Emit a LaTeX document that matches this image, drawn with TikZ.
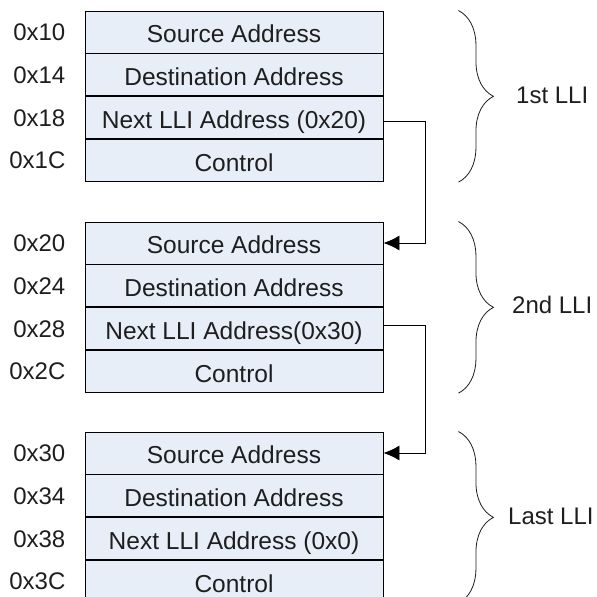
\documentclass[tikz,border=0pt]{standalone}
\usepackage{fontspec}
\setmainfont{Liberation Sans}
\usetikzlibrary{arrows.meta, positioning, decorations.pathreplacing}
\definecolor{cellfill}{RGB}{232,238,248}
\definecolor{ink}{RGB}{30,30,30}

\begin{document}
\begin{tikzpicture}[x=1pt, y=-1pt,
  cell/.style={draw=black, fill=cellfill, line width=0.9pt, minimum width=298pt,
    minimum height=42pt, inner sep=0pt, text height=21pt, text depth=0pt,
    text=ink, font=\fontsize{24.5}{28}\selectfont},
  addr/.style={inner sep=0pt, text=ink, font=\fontsize{24}{28}\selectfont},
  lli/.style={inner sep=0pt, anchor=west, text=ink, font=\fontsize{24}{28}\selectfont},
  link/.style={line width=0.9pt, -{Latex[length=16pt, width=15pt]}},
  brc/.style={draw=ink, line width=0.8pt, decorate, decoration={brace, amplitude=35pt}}]
  \clip (0,0) rectangle (597,597);
  % 1st LLI
  \node[cell] (s1) at (234,32) {Source Address};
  \node[cell, below=0pt of s1] (d1) {Destination Address};
  \node[cell, below=0pt of d1] (n1) {Next LLI Address (0x20)};
  \node[cell, below=0pt of n1] (c1) {Control};
  % 2nd LLI
  \node[cell] (s2) at (234,243) {Source Address};
  \node[cell, below=0pt of s2] (d2) {Destination Address};
  \node[cell, below=0pt of d2] (n2) {Next LLI Address(0x30)};
  \node[cell, below=0pt of n2] (c2) {Control};
  % last LLI
  \node[cell] (s3) at (234,453) {Source Address};
  \node[cell, below=0pt of s3] (d3) {Destination Address};
  \node[cell, below=0pt of d3] (n3) {Next LLI Address (0x0)};
  \node[cell, below=0pt of n3] (c3) {Control};
  % addresses
  \node[addr, left=19pt of s1] (a10) {0x10};
  \node[addr, left=19pt of d1] (a14) {0x14};
  \node[addr, left=19pt of n1] (a18) {0x18};
  \node[addr, left=19pt of c1] (a1c) {0x1C};
  \node[addr, left=19pt of s2] (a20) {0x20};
  \node[addr, left=19pt of d2] (a24) {0x24};
  \node[addr, left=19pt of n2] (a28) {0x28};
  \node[addr, left=19pt of c2] (a2c) {0x2C};
  \node[addr, left=19pt of s3] (a30) {0x30};
  \node[addr, left=19pt of d3] (a34) {0x34};
  \node[addr, left=19pt of n3] (a38) {0x38};
  \node[addr, left=19pt of c3] (a3c) {0x3C};
  % next pointers
  \draw[link] ([yshift=-4pt]n1.east) -- ++(42,0) |- (s2.east);
  \draw[link] ([yshift=3pt]n2.east) -- ++(42,0) |- (s3.east);
  % braces
  \draw[brc] ([xshift=75pt]s1.north east) -- ([xshift=75pt]c1.south east);
  \draw[brc] ([xshift=75pt]s2.north east) -- ([xshift=75pt]c2.south east);
  \draw[brc] ([xshift=75pt]s3.north east) -- ([xshift=75pt]c3.south east);
  \node[lli] (l1) at (516,95) {1st LLI};
  \node[lli] (l2) at (512,305) {2nd LLI};
  \node[lli] (l3) at (508,516) {Last LLI};
\end{tikzpicture}
\end{document}
